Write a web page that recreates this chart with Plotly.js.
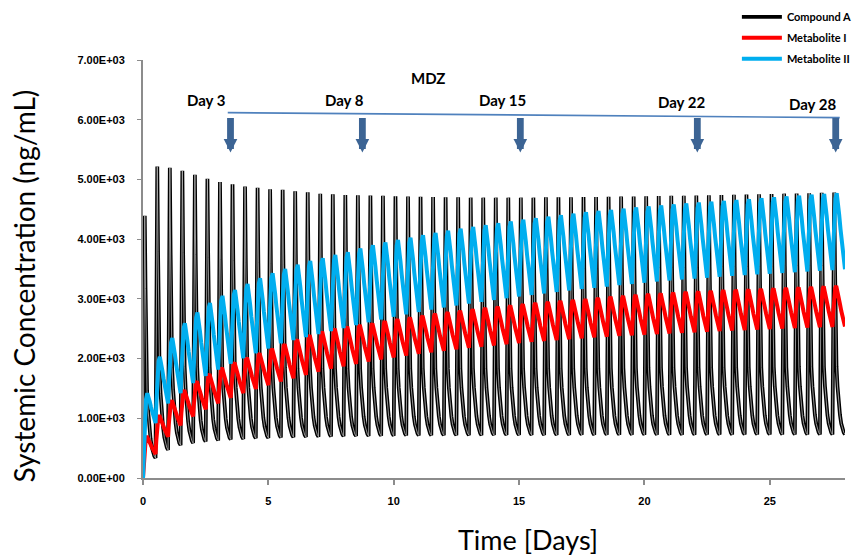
<!DOCTYPE html>
<html>
<head>
<meta charset="utf-8">
<script src="https://cdn.plot.ly/plotly-3.0.1.min.js"></script>
<style>html,body{margin:0;padding:0;background:#fff;}#chart{width:852px;height:560px;}</style>
</head>
<body>
<div id="chart"></div>
<script>
// Dose times (days) - twice daily dosing
const doseTimes = [0,0.5,1,1.5,2,2.5,3,3.5,4,4.5,5,5.5,6,6.5,7,7.5,8,8.5,9,9.5,10,10.5,11,11.5,12,12.5,13,13.5,14,14.5,15,15.5,16,16.5,17,17.5,18,18.5,19,19.5,20,20.5,21,21.5,22,22.5,23,23.5,24,24.5,25,25.5,26,26.5,27,27.5];

// Compound A: peak per dose and trough at end of each dosing interval (ng/mL)
const peakCompoundA = [4390,5215,5195,5145,5080,5010,4955,4920,4880,4860,4835,4825,4800,4785,4760,4750,4740,4735,4730,4725,4720,4715,4710,4705,4700,4700,4695,4695,4695,4695,4695,4695,4700,4700,4700,4705,4705,4710,4712,4715,4718,4722,4725,4728,4732,4736,4740,4744,4748,4752,4757,4762,4766,4770,4775,4780];
const troughCompoundA = [335,470,550,585,610,630,645,655,665,672,678,684,688,692,696,699,702,705,707,709,711,713,714,715,716,717,718,719,720,720,721,721,722,722,723,723,724,724,725,725,725,726,726,726,727,727,727,728,728,728,729,729,729,730,730,730];

// Metabolite I
const peakMetI = [700,1050,1300,1470,1620,1740,1845,1935,2015,2090,2165,2240,2320,2390,2450,2500,2535,2565,2590,2625,2660,2690,2720,2750,2775,2800,2825,2850,2870,2890,2910,2930,2950,2965,2980,2995,3015,3037,3049,3065,3082,3093,3104,3115,3125,3135,3145,3152,3160,3168,3177,3185,3193,3200,3208,3216];
const troughMetI = [400,690,880,1030,1150,1250,1340,1420,1490,1555,1615,1670,1725,1780,1830,1870,1910,1950,1985,2020,2050,2080,2105,2130,2155,2180,2200,2220,2240,2260,2280,2295,2310,2325,2340,2355,2367,2380,2390,2400,2410,2420,2430,2440,2450,2460,2470,2478,2486,2494,2502,2510,2518,2525,2530,2535];

// Metabolite II
const peakMetII = [1420,2030,2345,2590,2770,2930,3050,3150,3250,3345,3430,3500,3570,3635,3680,3735,3780,3845,3900,3945,3985,4025,4065,4105,4140,4175,4205,4235,4265,4295,4325,4350,4375,4400,4425,4450,4470,4489,4510,4530,4548,4565,4582,4598,4612,4626,4640,4654,4668,4684,4700,4714,4728,4742,4756,4770];
const troughMetII = [920,1250,1420,1590,1710,1815,1915,2005,2090,2170,2255,2310,2360,2410,2460,2510,2560,2610,2655,2700,2740,2780,2820,2855,2890,2920,2950,2980,3010,3040,3065,3090,3115,3140,3165,3185,3205,3230,3250,3270,3290,3308,3325,3340,3355,3370,3385,3398,3410,3422,3434,3446,3458,3470,3482,3494];

// Within-interval profile (time after dose, fraction of swing)
const profA = {riseT:[0,0.035], riseF:[0,0.5], peakT:0.07, declT:[0.10,0.13,0.16,0.20,0.25,0.30,0.35,0.40,0.45], declF:[0.70,0.42,0.28,0.20,0.13,0.08,0.045,0.022,0.008]};
const profI = {riseT:[0,0.03,0.07,0.11], riseF:[0,0.35,0.75,0.95], peakT:0.15, declT:[0.20,0.25,0.30,0.35,0.40,0.45], declF:[0.88,0.72,0.55,0.39,0.24,0.11]};
const profII = {riseT:[0,0.04,0.08,0.12], riseF:[0,0.35,0.72,0.93], peakT:0.17, declT:[0.22,0.27,0.32,0.37,0.42,0.46], declF:[0.88,0.71,0.53,0.36,0.19,0.08]};

const yTickVals = [0,1000,2000,3000,4000,5000,6000,7000];
const yTickText = ['0.00E+00','1.00E+03','2.00E+03','3.00E+03','4.00E+03','5.00E+03','6.00E+03','7.00E+03'];
const xTickVals = [0,5,10,15,20,25];

const markerDays = [3.49,8.75,15.05,22.11,27.63];
const markerLabels = ['Day 3','Day 8','Day 15','Day 22','Day 28'];

function build(peaks, troughs, p) {
  const x = [], y = [];
  let prev = 0;
  for (let i = 0; i < doseTimes.length; i++) {
    const t0 = doseTimes[i], P = peaks[i], T = troughs[i];
    for (let k = 0; k < p.riseT.length; k++) { x.push(t0 + p.riseT[k]); y.push(prev + p.riseF[k] * (P - prev)); }
    x.push(t0 + p.peakT); y.push(P);
    for (let k = 0; k < p.declT.length; k++) { x.push(t0 + p.declT[k]); y.push(T + p.declF[k] * (P - T)); }
    prev = T;
  }
  x.push(doseTimes[doseTimes.length - 1] + 0.5); y.push(prev);
  return {x, y};
}

const a = build(peakCompoundA, troughCompoundA, profA);
const m1 = build(peakMetI, troughMetI, profI);
const m2 = build(peakMetII, troughMetII, profII);

const traces = [
  {x: a.x, y: a.y, mode: 'lines', name: 'Compound A', legendgroup: 'a', line: {color: '#000000', width: 3.8}},
  {x: a.x, y: a.y, mode: 'lines', name: 'Compound A', legendgroup: 'a', showlegend: false, hoverinfo: 'skip', line: {color: '#b8b8b8', width: 0.8}},
  {x: m1.x, y: m1.y, mode: 'lines', name: 'Metabolite I', legendgroup: 'b', line: {color: '#ff0000', width: 4}},
  {x: m2.x, y: m2.y, mode: 'lines', name: 'Metabolite II', legendgroup: 'c', line: {color: '#00aeef', width: 4}}
];

const annotations = [
  {xref: 'paper', yref: 'paper', x: -0.17, y: 0.46, xanchor: 'center', yanchor: 'middle', text: 'Systemic Concentration (ng/mL)', textangle: -90, showarrow: false, font: {family: 'Lato, sans-serif', size: 28, color: '#000'}},
  {xref: 'paper', yref: 'paper', x: 0.548, y: -0.148, xanchor: 'center', yanchor: 'middle', text: 'Time [Days]', showarrow: false, font: {family: 'Lato, sans-serif', size: 27, color: '#000'}},
  {xref: 'x', yref: 'y', x: 11.36, y: 6700, text: 'MDZ', showarrow: false, font: {family: 'Lato, sans-serif', size: 15, weight: 'bold', color: '#000'}}
];
const labelPos = [[2.53,6332],[8.05,6332],[14.35,6332],[21.48,6303],[26.72,6265]];
for (let i = 0; i < markerLabels.length; i++) {
  annotations.push({xref: 'x', yref: 'y', x: labelPos[i][0], y: labelPos[i][1], text: markerLabels[i], showarrow: false, font: {family: 'Lato, sans-serif', size: 15, weight: 'bold', color: '#000'}});
  annotations.push({xref: 'x', yref: 'y', x: markerDays[i], y: 5450, text: '', showarrow: true, ax: 0, ay: -36, arrowhead: 2, arrowsize: 0.4, arrowwidth: 6.8, arrowcolor: '#3c6494', standoff: 0});
}

const layout = {
  width: 852, height: 560, autosize: false,
  margin: {l: 143, r: 7, t: 60, b: 82, autoexpand: false},
  paper_bgcolor: '#ffffff', plot_bgcolor: '#ffffff',
  showlegend: true,
  legend: {x: 0.846, y: 1.138, xanchor: 'left', yanchor: 'top', bgcolor: 'rgba(0,0,0,0)', itemwidth: 40, tracegroupgap: 2,
           font: {family: 'Lato, sans-serif', size: 11, weight: 'bold', color: '#000'}},
  xaxis: {range: [0, 28], tickvals: xTickVals, showline: true, linecolor: '#8c8c8c', linewidth: 2, ticks: 'outside', ticklen: 5, tickcolor: '#8c8c8c', tickwidth: 2,
          ticklabelstandoff: 7, showgrid: false, zeroline: false, tickfont: {family: 'Arial, sans-serif', size: 11, weight: 'bold', color: '#000'}},
  yaxis: {range: [0, 7000], tickvals: yTickVals, ticktext: yTickText, showline: true, linecolor: '#8c8c8c', linewidth: 2, ticks: 'outside', ticklen: 4, tickcolor: '#8c8c8c',
          ticklabelstandoff: 10, showgrid: false, zeroline: false, tickfont: {family: 'Arial, sans-serif', size: 11, weight: 'bold', color: '#000'}},
  shapes: [{type: 'line', xref: 'x', yref: 'y', x0: 3.38, y0: 6119, x1: 27.79, y1: 6035, line: {color: '#4f81bd', width: 1.6}}],
  annotations: annotations
};

Plotly.newPlot('chart', traces, layout, {displayModeBar: false, staticPlot: true});
</script>
</body>
</html>
